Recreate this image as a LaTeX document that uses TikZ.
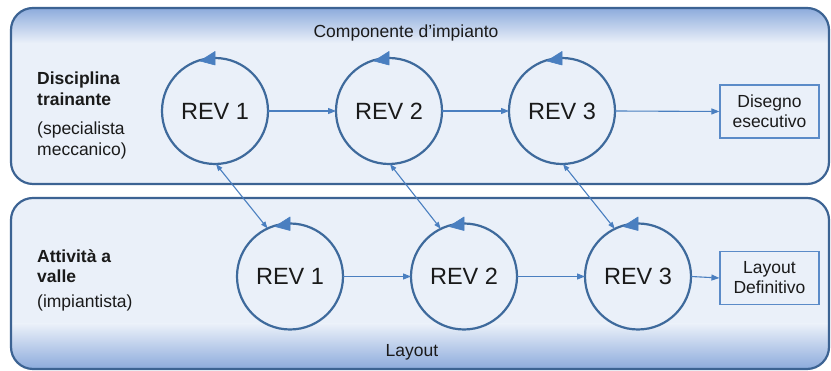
\documentclass[tikz,border=0pt]{standalone}
\usepackage{fontspec}
\setmainfont{Liberation Sans}
\usetikzlibrary{arrows.meta}
\definecolor{panelfill}{HTML}{EAF0F9}
\definecolor{paneldark}{HTML}{8AA9DB}
\definecolor{panelline}{HTML}{3C6393}
\definecolor{ringcol}{HTML}{3E6A9C}
\definecolor{linkcol}{HTML}{4A7FC0}
\definecolor{boxline}{HTML}{5B8BC8}
\definecolor{inkcol}{HTML}{1A1A1A}
\begin{document}
\begin{tikzpicture}[x=1pt,y=1pt,
  panel/.style={draw=panelline,line width=2.2pt,rounded corners=22pt},
  rev/.style={circle,draw=ringcol,line width=2.2pt,minimum size=106pt,inner sep=0pt,
    outer sep=0pt,font=\fontsize{23.5}{27}\selectfont,text=inkcol},
  cychead/.style={fill=linkcol,draw=linkcol,line width=0.6pt,line join=round},
  link/.style={draw=linkcol,line width=1.1pt,-{Triangle[length=8pt,width=6pt]}},
  twoway/.style={draw=linkcol,line width=1.1pt,
    {Triangle[length=7pt,width=5pt]}-{Triangle[length=7pt,width=5pt]}},
  outbox/.style={draw=boxline,line width=1.2pt,fill=panelfill,minimum width=99pt,
    minimum height=53pt,align=center,inner sep=2pt,
    font=\fontsize{17.5}{20}\selectfont,text=inkcol},
  lbl/.style={anchor=base west,inner sep=0pt,font=\fontsize{17.5}{21}\selectfont,text=inkcol},
  lblb/.style={lbl,font=\fontsize{17.5}{21}\selectfont\bfseries},
  title/.style={anchor=base,inner sep=0pt,font=\fontsize{17.5}{21}\selectfont,text=inkcol}]

\useasboundingbox (0,0) rectangle (831,371);
\fill[white] (0,0) rectangle (831,371);

% upper band: leading discipline
\fill[panelfill,rounded corners=22pt] (11,187) rectangle (829,363);
\begin{scope}
  \clip[rounded corners=22pt] (11,187) rectangle (829,363);
  \shade[top color=paneldark,bottom color=panelfill] (11,328) rectangle (829,364);
\end{scope}
\draw[panel] (11,187) rectangle (829,363);

% lower band: downstream activity
\fill[panelfill,rounded corners=22pt] (11,2) rectangle (829,173);
\begin{scope}
  \clip[rounded corners=22pt] (11,2) rectangle (829,173);
  \shade[top color=panelfill,bottom color=paneldark] (11,1) rectangle (829,47);
\end{scope}
\draw[panel] (11,2) rectangle (829,173);

% band titles
\node[title] (ttop) at (406,333) {Componente d’impianto};
\node[title] (tbot) at (412,14) {Layout};

% side labels
\node[lblb] (l1) at (37,286) {Disciplina};
\node[lblb] (l2) at (37,265) {trainante};
\node[lbl]  (l3) at (37,236) {(specialista};
\node[lbl]  (l4) at (37,215) {meccanico)};
\node[lblb] (m1) at (37,108) {Attività a};
\node[lblb] (m2) at (37,88)  {valle};
\node[lbl]  (m3) at (37,63)  {(impiantista)};

% revision circles
\node[rev] (t1) at (215,260) {REV 1};
\node[rev] (t2) at (389,260) {REV 2};
\node[rev] (t3) at (562,260) {REV 3};
\node[rev] (b1) at (290,94.5) {REV 1};
\node[rev] (b2) at (464,94.5) {REV 2};
\node[rev] (b3) at (638,94.5) {REV 3};

% iteration arrowhead on top of each circle, pointing counter-clockwise
\foreach \c in {t1,t2,t3,b1,b2,b3}
  \path[cychead] ([shift={(-15,50)}]\c.center) -- ([shift={(0,59.5)}]\c.center)
    -- ([shift={(0,46)}]\c.center) -- cycle;

% output boxes
\node[outbox] (d1) at (769.5,259.5) {Disegno\\esecutivo};
\node[outbox] (d2) at (769.5,93) {Layout\\Definitivo};

% flow along each band
\draw[link] (t1.east) -- (t2.west);
\draw[link] (t2.east) -- (t3.west);
\draw[link] (t3.east) -- (d1.west);
\draw[link] (b1.east) -- (b2.west);
\draw[link] (b2.east) -- (b3.west);
\draw[link] (b3.east) -- (d2.west);

% exchanges between the two bands
\draw[twoway] (t1.-89) -- (b1.115);
\draw[twoway] (t2.-89) -- (b2.116);
\draw[twoway] (t3.-89) -- (b3.116);
\end{tikzpicture}
\end{document}
